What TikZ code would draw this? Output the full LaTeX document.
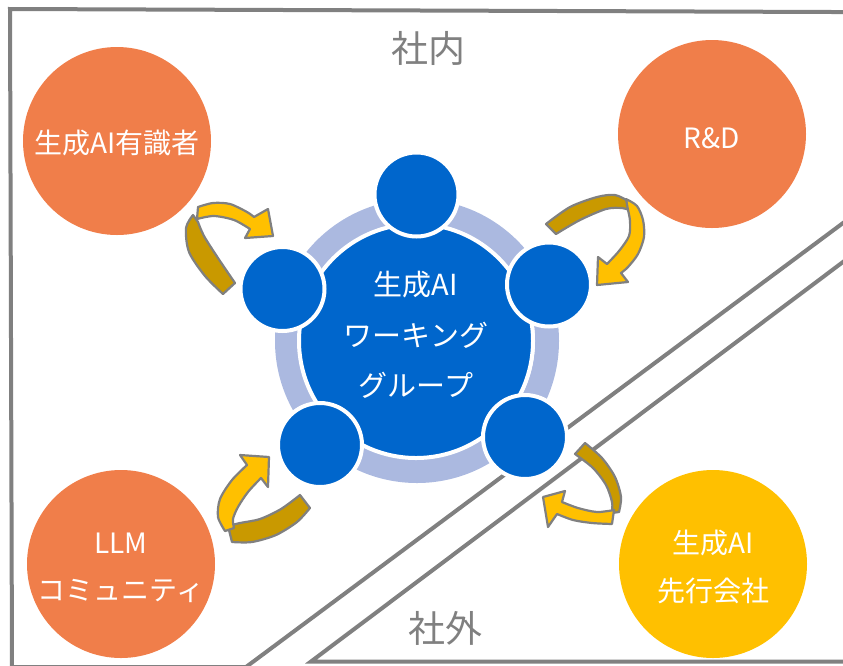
\documentclass[tikz,border=0pt]{standalone}
\usepackage{fontspec}
\newfontfamily\jp{Noto Sans CJK JP}
\definecolor{orng}{RGB}{240,126,74}
\definecolor{gld}{RGB}{255,192,0}
\definecolor{dgld}{RGB}{201,153,0}
\definecolor{blu}{RGB}{0,102,204}
\definecolor{rng}{RGB}{171,185,224}
\definecolor{edge}{RGB}{128,128,128}
\begin{document}
\begin{tikzpicture}[x=1pt,y=-1pt,
  frame/.style={draw=edge, line width=4pt, line join=miter},
  outer/.style={circle, inner sep=0pt, minimum size=188pt},
  member/.style={circle, fill=blu, draw=white, line width=4pt, inner sep=0pt, minimum size=84pt},
  arw/.style={draw=edge, line width=2.2pt, line join=round},
  lbl/.style={text=white, inner sep=0pt, font=\jp\fontsize{28}{30}\selectfont},
  clbl/.style={text=white, inner sep=0pt, font=\jp\fontsize{29}{31}\selectfont},
  region/.style={text=edge, inner sep=0pt, font=\jp\fontsize{37}{40}\selectfont}]
\useasboundingbox (0,0) rectangle (843,665);
% frames
\begin{scope}
\clip (0,0) rectangle (843,665);
\path[frame] (10,9) -- (860,12.1) -- (860,210.4) -- (246,667) -- (12,667) -- cycle;
\path[frame] (311,661.5) -- (860,249.2) -- (860,661.5) -- cycle;
\end{scope}
% outer circles
\node[outer, fill=orng] (expert) at (117,141) {};
\node[outer, fill=orng] (rnd) at (712,134) {};
\node[outer, fill=orng] (llm) at (121,564) {};
\node[outer, fill=gld] (firm) at (713,564) {};
\node[lbl] (expertT) at (117,143) {生成AI有識者};
\node[lbl] (rndT) at (712,138) {R\&D};
\node[lbl] (llmT1) at (121,543) {LLM};
\node[lbl] (llmT2) at (121,591) {コミュニティ};
\node[lbl] (firmT1) at (713,543) {生成AI};
\node[lbl] (firmT2) at (713,591) {先行会社};
% ring and center
\draw[rng, line width=24pt] (417,341) circle[radius=130];
\node[circle, fill=blu, draw=white, line width=4pt, inner sep=0pt, minimum size=234pt] (wg) at (416,341) {};
\node[clbl] (wgT1) at (416,285) {生成AI};
\node[clbl] (wgT2) at (416,335) {ワーキング};
\node[clbl] (wgT3) at (416,385) {グループ};
% members
\node[member] (mtop) at (416.5,194.5) {};
\node[member] (mleft) at (282.5,289) {};
\node[member] (mright) at (549,284.5) {};
\node[member] (mbl) at (320,445) {};
\node[member] (mbr) at (525,437) {};
% arrow 1 (top left)
\path[arw, fill=dgld] (223,294) -- (235,283) -- plot[smooth] coordinates {(235,283) (218,258) (204,236) (198,222)} -- (193,215) -- plot[smooth] coordinates {(193,215) (186,228) (189,252) (205,276) (223,294)} -- cycle;
\path[arw, fill=gld] (197,219) -- (198,207) -- plot[smooth] coordinates {(198,207) (213,203) (230,204) (247,212) (254,217)} -- (268,209) -- (273,236) -- (245,238) -- (250,229) -- plot[smooth] coordinates {(250,229) (234,220) (214,216) (197,219)} -- cycle;
% arrow 2 (top right)
\path[arw, fill=dgld] (546,224) -- plot[smooth] coordinates {(546,224) (570,207) (597,197) (615,195) (628,201)} -- (629,210) -- plot[smooth] coordinates {(629,210) (622,208) (606,209) (580,220) (556,234)} -- cycle;
\path[arw, fill=gld] (626,199) -- plot[smooth] coordinates {(626,199) (637,206) (643,220) (644,237) (638,254) (628,267) (621,273)} -- (628,282) -- (597,285) -- (598,257) -- (607,264) -- plot[smooth] coordinates {(607,264) (619,251) (629,236) (630,221) (628,210)} -- cycle;
% arrow 3 (bottom left)
\path[arw, fill=dgld] (228,526) -- plot[smooth] coordinates {(228,526) (240,523) (260,519) (281,509) (300,495)} -- (310,508) -- plot[smooth] coordinates {(310,508) (297,522) (276,535) (252,542) (232,542)} -- cycle;
\path[arw, fill=gld] (269,457) -- (268,487) -- (261,478) -- plot[smooth] coordinates {(261,478) (248,492) (238,507) (233,519) (234,528)} -- (225,531) -- plot[smooth] coordinates {(225,531) (218,517) (220,499) (232,480) (247,465)} -- (240,455) -- cycle;
% arrow 4 (bottom right)
\path[arw, fill=dgld] (575,454) -- (585,443) -- plot[smooth] coordinates {(585,443) (602,458) (615,477) (621,497) (619,512)} -- (612,513) -- plot[smooth] coordinates {(612,513) (612,502) (606,485) (593,468) (575,454)} -- cycle;
\path[arw, fill=gld] (543,497) -- (565,491) -- (562,502) -- plot[smooth] coordinates {(562,502) (578,508) (597,512) (614,510)} -- (612,524) -- plot[smooth] coordinates {(612,524) (592,523) (573,520) (557,514)} -- (548,527) -- cycle;
% region labels
\node[region] (inside) at (428,48) {社内};
\node[region] (outside) at (445,628) {社外};
\end{tikzpicture}
\end{document}
